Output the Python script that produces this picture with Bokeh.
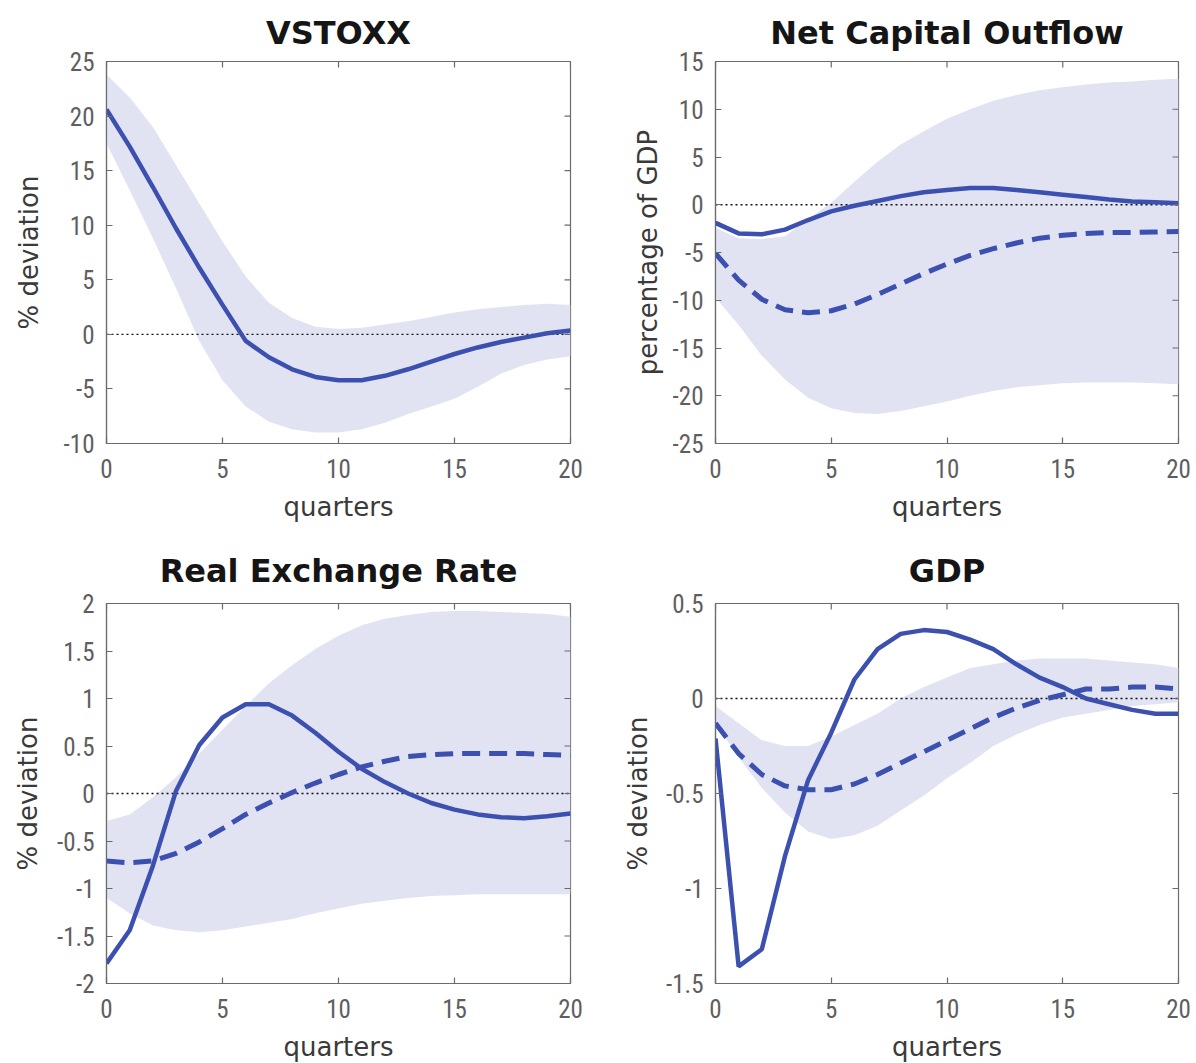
import math
from bokeh.plotting import figure
from bokeh.layouts import column, row
from bokeh.models import Range1d, FixedTicker
from bokeh.embed import file_html
from bokeh.resources import INLINE

quarters = list(range(21))
x_ticks = [0, 5, 10, 15, 20]
x_tick_labels = ["0", "5", "10", "15", "20"]

# VSTOXX
vstoxx_ticks = [-10, -5, 0, 5, 10, 15, 20, 25]
vstoxx_tick_labels = ["-10", "-5", "0", "5", "10", "15", "20", "25"]
vstoxx_model = [20.6, 17.2, 13.5, 9.7, 6.1, 2.7, -0.6, -2.1, -3.2, -3.9, -4.2,
                -4.2, -3.8, -3.2, -2.5, -1.8, -1.2, -0.7, -0.3, 0.1, 0.35]
vstoxx_hi = [23.8, 21.7, 19.0, 15.5, 12.0, 8.5, 5.3, 2.9, 1.5, 0.7, 0.5,
             0.6, 0.9, 1.2, 1.6, 2.0, 2.3, 2.5, 2.7, 2.8, 2.7]
vstoxx_lo = [17.5, 13.2, 8.8, 4.2, -0.6, -4.2, -6.6, -8.0, -8.7, -9.0, -9.0,
             -8.7, -8.1, -7.3, -6.6, -5.9, -4.8, -3.6, -2.8, -2.3, -2.0]

# Net Capital Outflow
nco_ticks = [-25, -20, -15, -10, -5, 0, 5, 10, 15]
nco_tick_labels = ["-25", "-20", "-15", "-10", "-5", "0", "5", "10", "15"]
nco_model = [-1.9, -3.0, -3.1, -2.6, -1.6, -0.7, -0.1, 0.4, 0.9, 1.3, 1.55,
             1.75, 1.75, 1.55, 1.3, 1.05, 0.8, 0.55, 0.35, 0.25, 0.15]
nco_median = [-5.1, -7.9, -9.9, -11.0, -11.3, -11.1, -10.4, -9.4, -8.3, -7.2, -6.2,
              -5.3, -4.6, -4.0, -3.5, -3.2, -3.0, -2.9, -2.9, -2.85, -2.8]
nco_hi = [-2.4, -3.5, -3.6, -3.3, -1.5, 0.2, 2.4, 4.5, 6.3, 7.7, 9.0,
          10.0, 10.9, 11.5, 12.0, 12.3, 12.6, 12.8, 12.9, 13.1, 13.2]
nco_lo = [-9.7, -12.6, -15.8, -18.3, -20.2, -21.3, -21.8, -21.9, -21.6, -21.1, -20.6,
          -20.0, -19.5, -19.1, -18.9, -18.7, -18.6, -18.6, -18.6, -18.7, -18.8]

# Real Exchange Rate
rer_ticks = [-2, -1.5, -1, -0.5, 0, 0.5, 1, 1.5, 2]
rer_tick_labels = ["-2", "-1.5", "-1", "-0.5", "0", "0.5", "1", "1.5", "2"]
rer_model = [-1.79, -1.44, -0.76, 0.03, 0.51, 0.80, 0.94, 0.94, 0.82, 0.64, 0.44,
             0.26, 0.12, 0.0, -0.10, -0.17, -0.22, -0.25, -0.26, -0.24, -0.21]
rer_median = [-0.71, -0.73, -0.71, -0.63, -0.51, -0.37, -0.22, -0.10, 0.01, 0.11, 0.20,
              0.28, 0.34, 0.39, 0.41, 0.42, 0.42, 0.42, 0.42, 0.41, 0.40]
rer_hi = [-0.29, -0.22, -0.04, 0.17, 0.42, 0.67, 0.92, 1.16, 1.35, 1.52, 1.66,
          1.77, 1.84, 1.88, 1.91, 1.92, 1.92, 1.91, 1.90, 1.89, 1.86]
rer_lo = [-1.10, -1.26, -1.39, -1.44, -1.46, -1.44, -1.40, -1.36, -1.32, -1.26, -1.21,
          -1.16, -1.13, -1.10, -1.08, -1.07, -1.06, -1.06, -1.06, -1.06, -1.06]

# GDP
gdp_ticks = [-1.5, -1, -0.5, 0, 0.5]
gdp_tick_labels = ["-1.5", "-1", "-0.5", "0", "0.5"]
gdp_model = [-0.21, -1.41, -1.32, -0.83, -0.43, -0.18, 0.10, 0.26, 0.34, 0.36, 0.35,
             0.31, 0.26, 0.18, 0.11, 0.06, 0.0, -0.03, -0.06, -0.08, -0.08]
gdp_median = [-0.13, -0.29, -0.40, -0.46, -0.48, -0.48, -0.45, -0.40, -0.34, -0.28, -0.22,
              -0.16, -0.10, -0.05, -0.01, 0.02, 0.05, 0.05, 0.06, 0.06, 0.05]
gdp_hi = [-0.04, -0.13, -0.22, -0.25, -0.25, -0.20, -0.14, -0.08, 0.0, 0.06, 0.11,
          0.16, 0.18, 0.20, 0.21, 0.21, 0.21, 0.20, 0.19, 0.18, 0.16]
gdp_lo = [-0.13, -0.31, -0.47, -0.60, -0.70, -0.74, -0.72, -0.67, -0.59, -0.51, -0.42,
          -0.34, -0.25, -0.19, -0.14, -0.10, -0.08, -0.06, -0.04, -0.03, -0.02]

BLUE = "#3c50af"
BAND = "#e1e3f3"
FRAME = "#6b6b6b"
TICK_FONT = "'Roboto Condensed', 'Roboto Light', Roboto, sans-serif"
TICK_COLOR = "#5e5e5e"


def style_axis(ax):
    ax.major_tick_in = 6
    ax.major_tick_out = 0
    ax.minor_tick_line_color = None
    ax.axis_line_color = FRAME
    ax.axis_line_width = 1.2
    ax.major_tick_line_color = FRAME
    ax.major_tick_line_width = 1.2
    ax.major_label_text_font = TICK_FONT
    ax.major_label_text_font_size = "25px"
    ax.major_label_text_color = TICK_COLOR


def panel(title, ylabel, yr, yticks, ylabels, model, lo, hi, median,
          borders, frame, ylabel_standoff, title_standoff):
    p = figure(frame_width=frame[0], frame_height=frame[1],
               output_backend="svg", toolbar_location=None,
               x_range=Range1d(0, 20), y_range=Range1d(*yr),
               min_border_left=borders[0], min_border_right=borders[1],
               min_border_top=borders[2], min_border_bottom=borders[3])
    p.xgrid.visible = False
    p.ygrid.visible = False
    p.outline_line_color = FRAME
    p.outline_line_width = 1.2
    p.background_fill_color = "white"
    p.border_fill_color = "white"

    p.title.text = title
    p.title.text_font = "DejaVu Sans"
    p.title.text_font_style = "bold"
    p.title.text_font_size = "32px"
    p.title.text_color = "#151515"
    p.title.align = "center"
    p.title.standoff = title_standoff

    p.varea(x=quarters, y1=lo, y2=hi, fill_color=BAND, fill_alpha=1.0)
    p.line(x=[quarters[0], quarters[-1]], y=[0, 0], line_color="#111111",
           line_width=1.4, line_dash="2 3")
    if median is not None:
        p.line(x=quarters, y=median, line_color=BLUE, line_width=5, line_dash="18 9")
    p.line(x=quarters, y=model, line_color=BLUE, line_width=4.5)

    # inner tick marks on the top and right edges of the box
    p.scatter(x=x_ticks, y=[yr[1]] * len(x_ticks), marker="dash", angle=math.pi / 2,
              size=12, line_color=FRAME, line_width=1.2)
    p.scatter(x=[quarters[-1]] * len(yticks), y=yticks, marker="dash",
              size=12, line_color=FRAME, line_width=1.2)

    xax = p.xaxis[0]
    xax.ticker = FixedTicker(ticks=x_ticks)
    xax.major_label_overrides = {t: l for t, l in zip(x_ticks, x_tick_labels)}
    style_axis(xax)
    xax.major_label_standoff = 15
    xax.axis_label = "quarters"
    xax.axis_label_text_font = "DejaVu Sans"
    xax.axis_label_text_font_style = "normal"
    xax.axis_label_text_font_size = "26px"
    xax.axis_label_text_color = "#3a3a3a"
    xax.axis_label_standoff = 11

    yax = p.yaxis[0]
    yax.ticker = FixedTicker(ticks=yticks)
    yax.major_label_overrides = {t: l for t, l in zip(yticks, ylabels)}
    style_axis(yax)
    yax.major_label_standoff = 12
    yax.axis_label = ylabel
    yax.axis_label_text_font = "DejaVu Sans"
    yax.axis_label_text_font_style = "normal"
    yax.axis_label_text_font_size = "26px"
    yax.axis_label_text_color = "#3a3a3a"
    yax.axis_label_standoff = ylabel_standoff
    return p


p1 = panel("VSTOXX", "% deviation", (-10, 25), vstoxx_ticks, vstoxx_tick_labels,
           vstoxx_model, vstoxx_lo, vstoxx_hi, None, (106, 36, 61, 87), (464, 382), 17, 20)
p2 = panel("Net Capital Outflow", "percentage of GDP", (-25, 15), nco_ticks, nco_tick_labels,
           nco_model, nco_lo, nco_hi, nco_median, (109, 14, 61, 87), (463, 382), 7, 20)
p3 = panel("Real Exchange Rate", "% deviation", (-2, 2), rer_ticks, rer_tick_labels,
           rer_model, rer_lo, rer_hi, rer_median, (106, 36, 73, 72), (464, 380), 11, 28)
p4 = panel("GDP", "% deviation", (-1.5, 0.5), gdp_ticks, gdp_tick_labels,
           gdp_model, gdp_lo, gdp_hi, gdp_median, (109, 14, 73, 72), (463, 380), 10, 28)

layout = column(row(p1, p2), row(p3, p4))

open("out.html", "w").write(file_html(layout, INLINE))
